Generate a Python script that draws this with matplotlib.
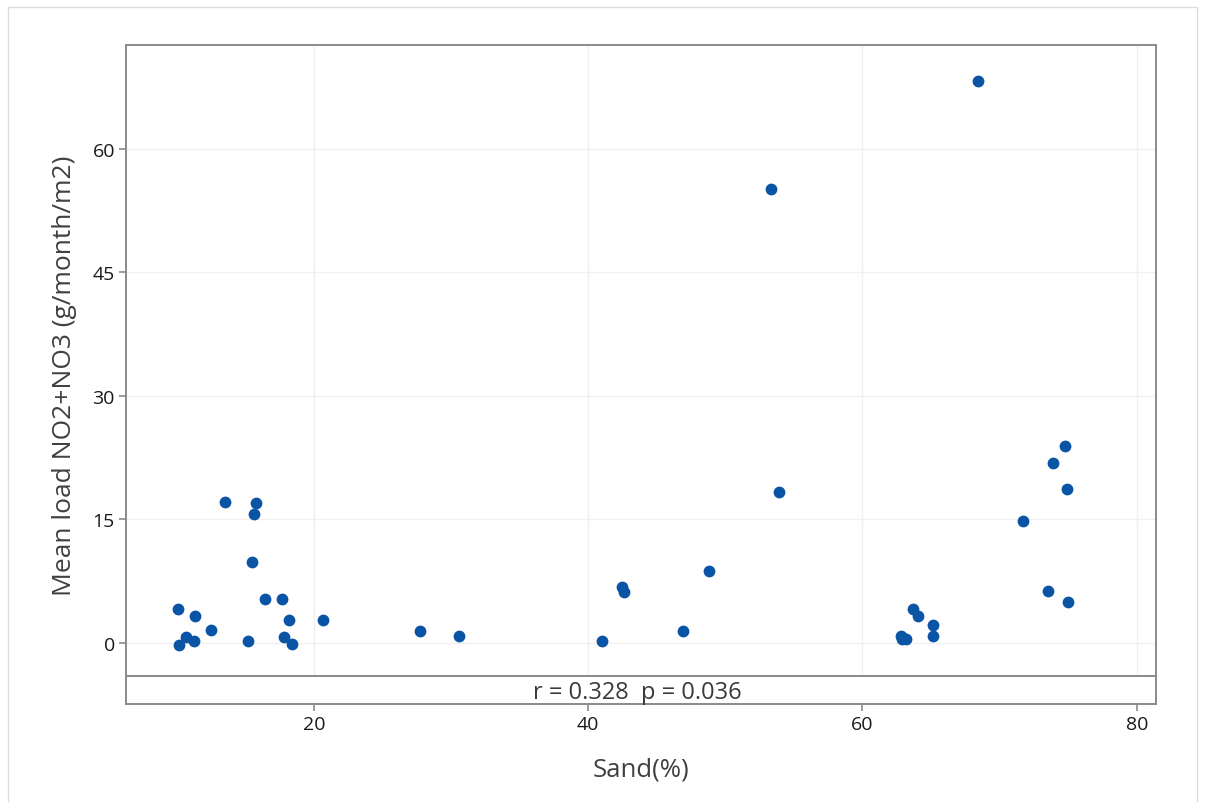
import numpy as np
import matplotlib.pyplot as plt
from matplotlib.patches import Rectangle

# datos
sand = [10.1, 10.2, 10.7, 11.25, 11.35, 12.5, 13.5, 15.2, 15.5, 15.6, 15.8,
        16.4, 17.65, 17.85, 18.2, 18.4, 20.7,
        27.7, 30.6, 41.0, 42.45, 42.6, 46.9, 48.8, 53.3, 53.9,
        62.8, 62.9, 63.2, 63.7, 64.05, 65.15, 65.15, 68.4,
        71.7, 73.55, 73.9, 74.75, 74.9, 75.0]
no_load = [4.05, -0.3, 0.7, 0.2, 3.25, 1.6, 17.05, 0.2, 9.75, 15.6, 16.95,
           5.25, 5.25, 0.7, 2.7, -0.1, 2.7,
           1.4, 0.8, 0.2, 6.8, 6.1, 1.4, 8.7, 55.1, 18.35,
           0.8, 0.4, 0.5, 4.15, 3.25, 2.1, 0.8, 68.3,
           14.85, 6.3, 21.8, 23.85, 18.7, 4.95]
xticks = [20, 40, 60, 80]
yticks = [0, 15, 30, 45, 60]
stats_txt = 'r = 0.328  p = 0.036'

W, H = 1209, 803
plt.rcParams['font.family'] = ['Open Sans', 'DejaVu Sans']
fig = plt.figure(figsize=(W / 100, H / 100), dpi=100)

# marco exterior claro (abierto por abajo)
fig.patches.append(Rectangle((8 / W, -0.02), (1197 - 8) / W, (H - 8) / H + 0.02,
                             transform=fig.transFigure, fill=False,
                             edgecolor='#dcdcdc', linewidth=1))

left, right = 126, 1156
top, sep, bottom = 46, 677, 705
ax = fig.add_axes([left / W, (H - sep) / H, (right - left) / W, (sep - top) / H])
ax2 = fig.add_axes([left / W, (H - bottom) / H, (right - left) / W, (bottom - sep) / H],
                   sharex=ax)

spine_c = '#8a8a8a'
for a in (ax, ax2):
    for s in a.spines.values():
        s.set_color(spine_c)
        s.set_linewidth(1.4)

ax.scatter(sand, no_load, s=72, color='#0a54a5', zorder=3, linewidths=0)

ax.set_xlim(6.3, 81.4)
ax.set_ylim(-4.05, 72.65)
ax.set_xticks(xticks)
ax.set_yticks(yticks)
ax.grid(True, color='#f0f0f0', linewidth=1)
ax.tick_params(axis='x', bottom=False, labelbottom=False)
ax.tick_params(axis='y', length=5, width=1.2, color=spine_c, labelsize=14,
               labelcolor='#1a1a1a', pad=3)

ax2.set_yticks([])
ax2.set_ylim(0, 1)
ax2.tick_params(axis='x', length=5, width=1.2, color=spine_c, labelsize=14,
                labelcolor='#1a1a1a', pad=3)
ax2.text(0.496, 0.42, stats_txt, transform=ax2.transAxes, ha='center', va='center',
         fontsize=17, color='#3a3a3a')

# etiqueta Y centrada en todo el marco (panel + franja)
fig.text(65 / W, 1 - 375.5 / H, 'Mean load NO2+NO3 (g/month/m2)', rotation=90,
         ha='center', va='center', fontsize=19, color='#404040')
ax2.set_xlabel('Sand(%)', fontsize=18.5, color='#404040', labelpad=17)

fig.savefig('out.png', dpi=100)
